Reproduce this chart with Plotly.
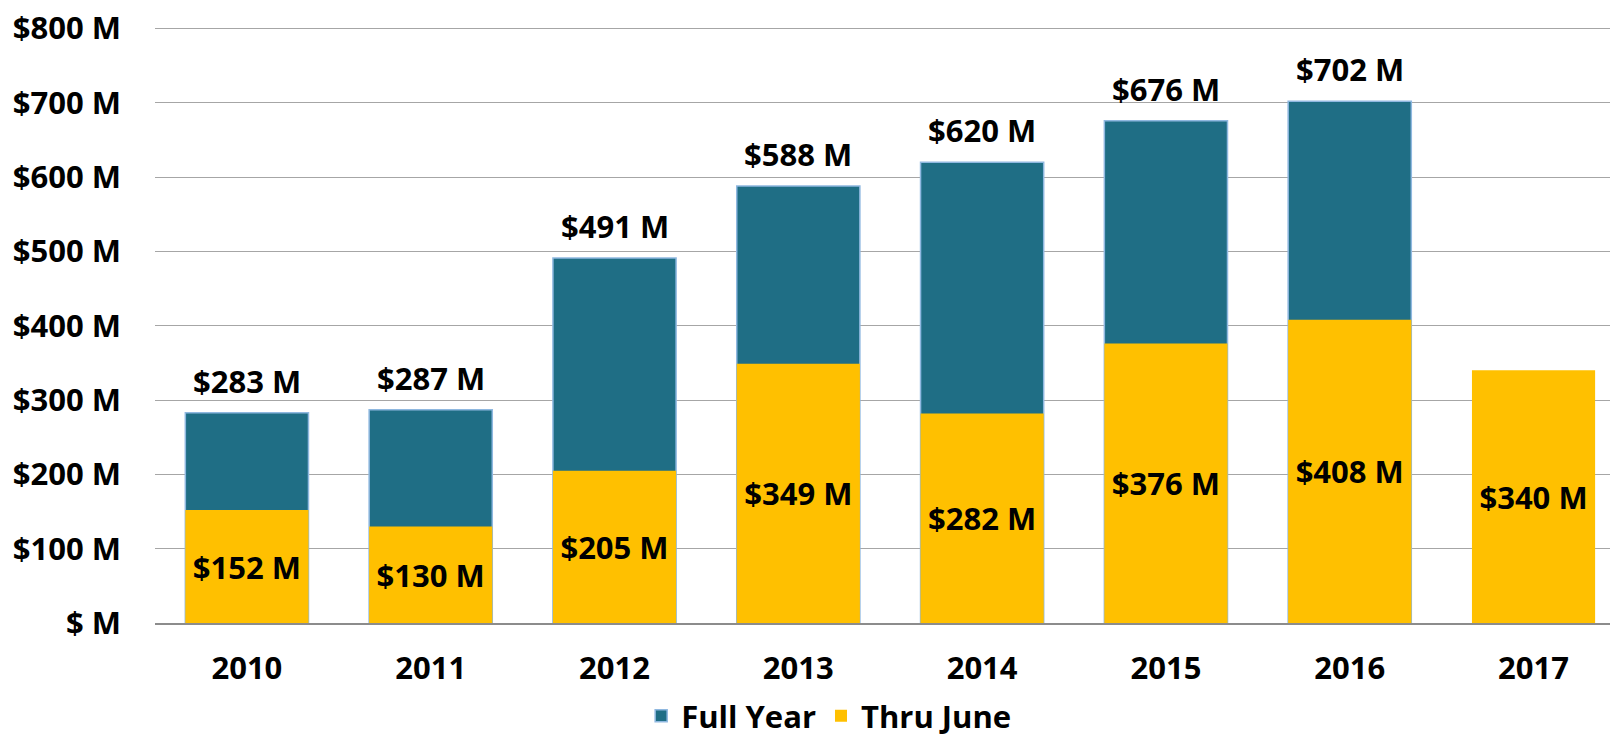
import plotly.graph_objects as go

years = ["2010", "2011", "2012", "2013", "2014", "2015", "2016", "2017"]
full_year = [283, 287, 491, 588, 620, 676, 702, None]
thru_june = [152, 130, 205, 349, 282, 376, 408, 340]
y_ticks = [0, 100, 200, 300, 400, 500, 600, 700, 800]
y_tick_text = ["$ M", "$100 M", "$200 M", "$300 M", "$400 M", "$500 M", "$600 M", "$700 M", "$800 M"]

TEAL = "#1F6E85"
GOLD = "#FFC000"
FONT = "Open Sans"
FS = 31

fig = go.Figure()
fig.add_trace(go.Bar(
    x=years, y=full_year, name="Full Year", width=0.67,
    marker=dict(color=TEAL, line=dict(color="#8FB8E0", width=1.5)),
    hoverinfo="skip",
))
fig.add_trace(go.Bar(
    x=years, y=thru_june, name="Thru June", width=0.67,
    marker=dict(color=GOLD, line=dict(width=0)),
    text=[f"${v} M" for v in thru_june], textposition="inside",
    insidetextanchor="middle",
    textfont=dict(family=FONT, size=FS, color="black", weight="bold"),
    hoverinfo="skip",
))

for i, v in enumerate(full_year):
    if v is not None:
        fig.add_annotation(x=i, y=v, text=f"${v} M", showarrow=False,
                           yanchor="middle", yshift=32,
                           font=dict(family=FONT, size=FS, color="black", weight="bold"))

fig.update_layout(
    barmode="overlay",
    width=1610, height=743,
    margin=dict(l=155, r=0, t=27, b=120, autoexpand=False),
    plot_bgcolor="white", paper_bgcolor="white",
    font=dict(family=FONT, size=FS, color="black", weight="bold"),
    legend=dict(orientation="h", x=0.463, xanchor="center",
                yref="container", y=0.0, yanchor="bottom",
                font=dict(family=FONT, size=FS, color="black", weight="bold"),
                itemwidth=30, traceorder="normal"),
    showlegend=True,
)
fig.update_xaxes(
    type="category", range=[-0.5, 7.416], automargin=False,
    showline=True, linecolor="#8C8C8C", linewidth=2,
    showgrid=False, ticks="", ticklabelstandoff=17,
    tickfont=dict(family=FONT, size=FS, color="black", weight="bold"),
)
fig.update_yaxes(
    range=[0, 802], tickvals=y_ticks, ticktext=y_tick_text, automargin=False,
    showgrid=True, gridcolor="#A6A6A6", gridwidth=1,
    zeroline=False, ticks="", ticklabelstandoff=33,
    tickfont=dict(family=FONT, size=FS, color="black", weight="bold"),
)

fig.write_html(
    "out.html",
    config={"displayModeBar": False},
    post_script="document.body.style.margin='0';document.body.style.overflow='hidden';",
)
